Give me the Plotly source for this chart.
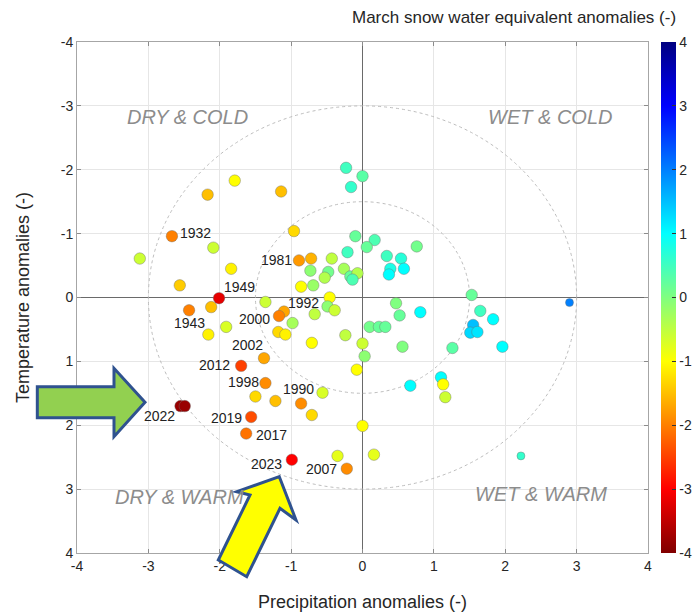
import plotly.graph_objects as go

# ---------------- data ----------------
precip = [
    -1.79, -2.17, -1.14, -2.67, -0.96, -2.09, -3.12, -1.84, -0.89, -0.72,
    -2.56, -2.01, -2.12, -2.43, -1.91, -2.16, -1.36, -0.86, -0.69, -1.10,
    -1.17, -0.98, -1.18, -1.08,
    -0.23, 0.00, -0.16, -0.10, 0.17, 0.06, 0.76, -0.21, 0.34, 0.54,
    0.39, 0.58, 0.37, -0.43, -0.73, -0.48, -0.53, -0.26, -0.17, -0.07,
    -0.14, -0.46, -0.49, -0.39, -0.67, 0.47, 0.52, 0.81, 1.53, 1.65,
    1.83, 1.55, 1.51, 1.61, 0.10, 0.23, 0.32, -0.24, 0.00, -0.71,
    0.56, 1.26, 1.96,
    -1.38, -1.70, -1.36, -1.50, -1.22, -0.86, -0.56, -0.71, -2.55, -2.49,
    -1.56, -1.63, -0.99, -0.22, -0.35, 0.16, 0.00, -0.08, 0.03, 0.67,
    1.10, 1.13, 1.16,
]
temp = [
    -1.83, -1.61, -1.66, -0.96, -1.04, -0.78, -0.61, -0.45, -0.58, -0.61,
    -0.19, 0.01, 0.15, 0.20, 0.46, 0.58, 0.07, -0.17, -0.19, 0.22,
    0.29, 0.40, 0.54, 0.58,
    -2.03, -1.90, -1.73, -0.96, -0.90, -0.79, -0.80, -0.71, -0.65, -0.61,
    -0.45, -0.45, -0.36, -0.61, -0.42, -0.40, -0.31, -0.45, -0.33, -0.38,
    -0.28, 0.00, 0.14, 0.20, 0.26, 0.09, 0.28, 0.23, -0.04, 0.21,
    0.34, 0.43, 0.55, 0.54, 0.46, 0.46, 0.46, 0.59, 0.72, 0.71,
    0.77, 0.79, 0.77,
    0.95, 1.07, 1.34, 1.55, 1.62, 1.66, 1.49, 1.84, 1.70, 1.70,
    1.87, 2.13, 2.54, 2.68, 2.48, 2.46, 2.01, 1.13, 0.92, 1.38,
    1.25, 1.36, 1.56,
]
swe = [
    -1.0, -1.5, -1.5, -2.0, -1.3, -0.6, -0.6, -1.1, -1.8, -1.6,
    -1.4, -3.2, -1.5, -2.0, -0.7, -1.1, -0.6, -1.0, -0.2, -1.7,
    -2.0, -0.3, -1.3, -1.1,
    0.5, 0.3, 0.6, 0.2, 0.4, 0.2, 0.1, 0.5, 0.5, 0.7,
    0.8, 1.0, 1.0, -0.5, -0.1, 0.1, -0.4, -0.3, 0.2, -0.4,
    0.4, -1.0, -0.1, -0.6, -0.5, 0.0, 0.2, 1.0, 0.2, 0.5,
    1.0, 1.5, 1.3, 1.2, 0.1, 0.2, 0.2, -0.5, -0.6, -1.0,
    0.0, 0.3, 1.0,
    -1.7, -2.5, -1.9, -1.3, -1.5, -1.9, -0.7, -1.3, -3.8, -3.8,
    -2.4, -2.1, -3.0, -1.9, -0.8, -0.8, -1.0, -1.0, -0.1, 1.0,
    1.0, -1.0, -0.6,
]

# two points drawn with smaller markers
small_precip = [2.90, 2.22]
small_temp = [0.08, 2.48]
small_swe = [2.0, 0.6]

# year labels (text positions)
label_text = ["1932", "1949", "1943", "1981", "1992", "2000", "2002", "2012",
              "1998", "1990", "2022", "2019", "2017", "2023", "2007"]
label_x = [-2.34, -1.73, -2.42, -1.20, -0.83, -1.51, -1.61, -2.07,
           -1.67, -0.90, -2.84, -1.91, -1.27, -1.35, -0.57]
label_y = [-1.01, -0.16, 0.40, -0.58, 0.08, 0.34, 0.75, 1.06,
           1.32, 1.43, 1.86, 1.88, 2.16, 2.61, 2.68]

quad_text = ["DRY & COLD", "WET & COLD", "DRY & WARM", "WET & WARM"]
quad_x = [-2.45, 2.62, -2.56, 2.50]
quad_y = [-2.83, -2.83, 3.13, 3.08]

tick_vals = [-4, -3, -2, -1, 0, 1, 2, 3, 4]
tick_text = ["-4", "-3", "-2", "-1", "0", "1", "2", "3", "4"]

circle_radii = [1.5, 3.0]

# ---------------- layout constants ----------------
W, H = 693, 613
L, R, T, B = 77, 648, 42, 553
FONT = "Liberation Sans, Arial, Helvetica, sans-serif"

jet_r = [[0.0, "#800000"], [0.125, "#ff0000"], [0.375, "#ffff00"],
         [0.5, "#80ff80"], [0.625, "#00ffff"], [0.875, "#0000ff"],
         [1.0, "#000080"]]

marker_line = dict(color="rgba(110,110,110,0.7)", width=0.6)

fig = go.Figure()
fig.add_trace(go.Scatter(
    x=precip, y=temp, mode="markers",
    marker=dict(size=11.5, color=swe, colorscale=jet_r, cmin=-4, cmax=4,
                line=marker_line,
                colorbar=dict(
                    thickness=15, x=(661 - L) / (R - L), xanchor="left", xpad=0,
                    y=0.5, yanchor="middle", len=1, ypad=0,
                    outlinewidth=0, ticks="inside", ticklen=4, tickcolor="#333",
                    tickvals=tick_vals, ticktext=tick_text,
                    tickfont=dict(family=FONT, size=14, color="#262626"),
                )),
    showlegend=False, hoverinfo="skip",
))
fig.add_trace(go.Scatter(
    x=small_precip, y=small_temp, mode="markers",
    marker=dict(size=8, color=small_swe, colorscale=jet_r, cmin=-4, cmax=4,
                line=marker_line, showscale=False),
    showlegend=False, hoverinfo="skip",
))

axis_common = dict(
    tickvals=tick_vals, ticktext=tick_text,
    showgrid=True, gridcolor="#e6e6e6", gridwidth=1,
    zeroline=True, zerolinecolor="#6a6a6a", zerolinewidth=1.2,
    showline=True, linecolor="#a6a6a6", linewidth=1, mirror="ticks",
    ticks="inside", ticklen=4, tickcolor="#8c8c8c",
    tickfont=dict(family=FONT, size=14, color="#262626"),
)
fig.update_xaxes(range=[-4, 4], title=dict(text="Precipitation anomalies (-)",
                 font=dict(family=FONT, size=18, color="#262626"), standoff=22),
                 **axis_common)
fig.update_yaxes(range=[4, -4], title=dict(text="Temperature anomalies (-)",
                 font=dict(family=FONT, size=18, color="#262626"), standoff=26),
                 ticklabelstandoff=0, **axis_common)

shapes = []
for r in circle_radii:
    shapes.append(dict(type="circle", xref="x", yref="y", x0=-r, x1=r, y0=-r, y1=r,
                       line=dict(color="#bdbdbd", width=1, dash="dot"), layer="between"))


def px_path(pts):
    s = ""
    for i, (px, py) in enumerate(pts):
        xp = (px - L) / (R - L)
        yp = (B - py) / (B - T)
        s += ("M" if i == 0 else "L") + f"{xp:.4f},{yp:.4f} "
    return s + "Z"


green_arrow = [(37.3, 386.7), (114, 386.7), (114, 368.3), (145, 402.3),
               (114, 436.7), (114, 417.7), (37.3, 417.7)]
yellow_arrow = [(279.3, 476.7), (296, 520), (280, 508.3), (246.7, 576.7),
                (218.3, 560), (250, 495), (236.7, 491.7)]
shapes.append(dict(type="path", xref="paper", yref="paper", path=px_path(green_arrow),
                   fillcolor="#92D050", line=dict(color="#2F528F", width=3), layer="above"))
shapes.append(dict(type="path", xref="paper", yref="paper", path=px_path(yellow_arrow),
                   fillcolor="#FFFF00", line=dict(color="#2F528F", width=3), layer="above"))

annotations = []
for t, x, y in zip(label_text, label_x, label_y):
    annotations.append(dict(x=x, y=y, xref="x", yref="y", text=t, showarrow=False,
                            font=dict(family=FONT, size=14, color="#222222")))
for t, x, y in zip(quad_text, quad_x, quad_y):
    annotations.append(dict(x=x, y=y, xref="x", yref="y", text=f"<i>{t}</i>", showarrow=False,
                            font=dict(family=FONT, size=20, color="#8c8c8c")))
annotations.append(dict(x=(678 - L) / (R - L), y=(B - 17.7) / (B - T), xref="paper", yref="paper",
                        xanchor="right", yanchor="middle", showarrow=False,
                        text="March snow water equivalent anomalies (-)",
                        font=dict(family=FONT, size=17, color="#262626")))

fig.update_layout(
    width=W, height=H,
    margin=dict(l=L, r=W - R, t=T, b=H - B, autoexpand=False),
    paper_bgcolor="white", plot_bgcolor="white",
    shapes=shapes, annotations=annotations,
    font=dict(family=FONT),
)

fig.write_html("out.html",
               config={"displayModeBar": False, "staticPlot": True},
               post_script="document.body.style.margin='0';document.body.style.overflow='hidden';")
